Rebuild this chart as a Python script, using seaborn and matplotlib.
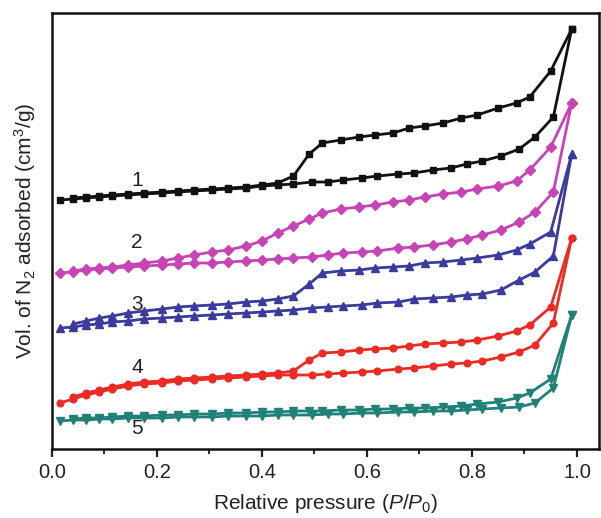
import numpy as np
import pandas as pd
import matplotlib
matplotlib.use("Agg")
import matplotlib.pyplot as plt
from matplotlib.ticker import MultipleLocator
import seaborn as sns

# Relative pressure points (shared by all samples)
p_ads = [0.015, 0.04, 0.065, 0.09, 0.115, 0.145, 0.175, 0.21, 0.24, 0.27, 0.305,
         0.335, 0.37, 0.40, 0.43, 0.46, 0.495, 0.525, 0.555, 0.59, 0.62, 0.66,
         0.69, 0.725, 0.76, 0.79, 0.82, 0.855, 0.89, 0.92, 0.955, 0.99]
p_des = [0.99, 0.95, 0.91, 0.885, 0.85, 0.81, 0.78, 0.745, 0.71, 0.68, 0.65,
         0.615, 0.585, 0.55, 0.515, 0.49, 0.46, 0.43, 0.40, 0.37, 0.335, 0.305,
         0.27, 0.24, 0.21, 0.175, 0.145, 0.115, 0.09, 0.065, 0.04]

# Adsorbed volume (offset curves, arbitrary units)
ads_1 = [249, 250, 251, 252, 253, 254, 255, 256, 257, 258, 259, 260, 261, 263, 264, 265,
         267, 267, 269, 271, 273, 275, 276, 279, 281, 285, 288, 293, 300, 312, 332, 420]
des_1 = [420, 378, 352, 346, 341, 334, 331, 326, 323, 321, 316, 314, 312, 309, 306, 295,
         273, 266, 264, 262, 261, 260, 259, 258, 257, 256, 255, 254, 253, 252, 251]

ads_2 = [176, 177, 179, 180, 181, 182, 183, 184, 185, 186, 186, 187, 188, 189, 190, 191,
         192, 194, 196, 197, 198, 201, 202, 204, 207, 210, 214, 219, 227, 237, 257, 346]
des_2 = [346, 302, 279, 268, 263, 260, 257, 255, 252, 249, 247, 244, 242, 240, 236, 230,
         223, 216, 208, 203, 199, 197, 194, 191, 188, 186, 184, 182, 181, 180, 178]

ads_3 = [121, 122, 124, 125, 127, 128, 130, 131, 132, 133, 134, 135, 136, 137, 138, 139,
         141, 142, 143, 144, 146, 147, 150, 151, 152, 154, 155, 159, 169, 177, 193, 295]
des_3 = [295, 217, 205, 199, 194, 191, 189, 187, 186, 183, 182, 181, 179, 178, 176, 165,
         153, 150, 148, 147, 145, 144, 143, 142, 140, 138, 136, 133, 131, 128, 125]

ads_4 = [46, 50, 54, 57, 60, 63, 65, 66, 68, 69, 70, 71, 72, 73, 74, 74,
         74, 75, 76, 77, 78, 80, 81, 83, 85, 86, 88, 92, 97, 104, 126, 211]
des_4 = [211, 142, 124, 118, 113, 109, 107, 106, 105, 103, 101, 100, 99, 97, 96, 89,
         78, 76, 75, 74, 73, 72, 71, 70, 68, 67, 65, 62, 59, 56, 52]

ads_5 = [28, 29, 29, 30, 30, 31, 31, 31, 32, 32, 32, 33, 33, 33, 34, 34,
         34, 35, 35, 36, 36, 37, 37, 38, 38, 39, 40, 41, 42, 46, 61, 134]
des_5 = [134, 70, 56, 51, 47, 45, 43, 42, 41, 41, 40, 40, 39, 39, 38, 38,
         38, 37, 37, 36, 36, 35, 35, 34, 34, 33, 33, 32, 31, 31, 30]

sample_labels = ["1", "2", "3", "4", "5"]
label_x = [0.162, 0.162, 0.162, 0.162, 0.162]
label_y = [269, 207, 145, 82, 21]

x_ticks = [0.0, 0.2, 0.4, 0.6, 0.8, 1.0]

sns.set_style("white")
plt.rcParams["font.family"] = ["Liberation Sans", "DejaVu Sans"]
plt.rcParams["mathtext.fontset"] = "custom"
plt.rcParams["mathtext.rm"] = "Liberation Sans"
plt.rcParams["mathtext.it"] = "Liberation Sans:italic"

fig = plt.figure(figsize=(6.01, 5.18), dpi=100)
ax = fig.add_axes([0.0865, 0.1332, 0.9102, 0.8417])

styles = [
    ("#111111", "s"),
    ("#C644B6", "D"),
    ("#3B3A9E", "^"),
    ("#EC2B25", "o"),
    ("#1F8177", "v"),
]
ads_all = [ads_1, ads_2, ads_3, ads_4, ads_5]
des_all = [des_1, des_2, des_3, des_4, des_5]
msizes = [4.6, 4.6, 5.4, 4.8, 5.4]

for i, (color, mk) in enumerate(styles):
    for px, vy in ((p_ads, ads_all[i]), (p_des, des_all[i])):
        sns.lineplot(x=px, y=vy, sort=False, ax=ax, color=color,
                     marker=mk, markersize=msizes[i], markeredgecolor=color,
                     markerfacecolor=color, markeredgewidth=1.0,
                     linewidth=2.0, legend=False)
    ax.text(label_x[i], label_y[i], sample_labels[i], fontsize=15,
            ha="center", va="center", color="#222222")

ax.set_xlim(0, 1.042)
ax.set_ylim(0, 436)
ax.set_xticks(x_ticks)
ax.set_xticklabels([f"{t:.1f}" for t in x_ticks])
ax.xaxis.set_minor_locator(MultipleLocator(0.1))
ax.set_yticks([])
ax.tick_params(axis="x", which="major", direction="out", length=6, width=1.6,
               labelsize=14.5, colors="#222222", pad=4, bottom=True)
ax.tick_params(axis="x", which="minor", direction="out", length=3.5, width=1.4,
               bottom=True)
for s in ax.spines.values():
    s.set_linewidth(1.8)
    s.set_color("#111111")

ax.set_xlabel(r"Relative pressure ($P/P_{\mathit{0}}$)", fontsize=15,
              color="#222222", labelpad=7)
ax.set_ylabel(r"Vol. of N$_2$ adsorbed (cm$^3$/g)", fontsize=15,
              color="#222222", labelpad=10)

fig.savefig("out.png", dpi=100)
